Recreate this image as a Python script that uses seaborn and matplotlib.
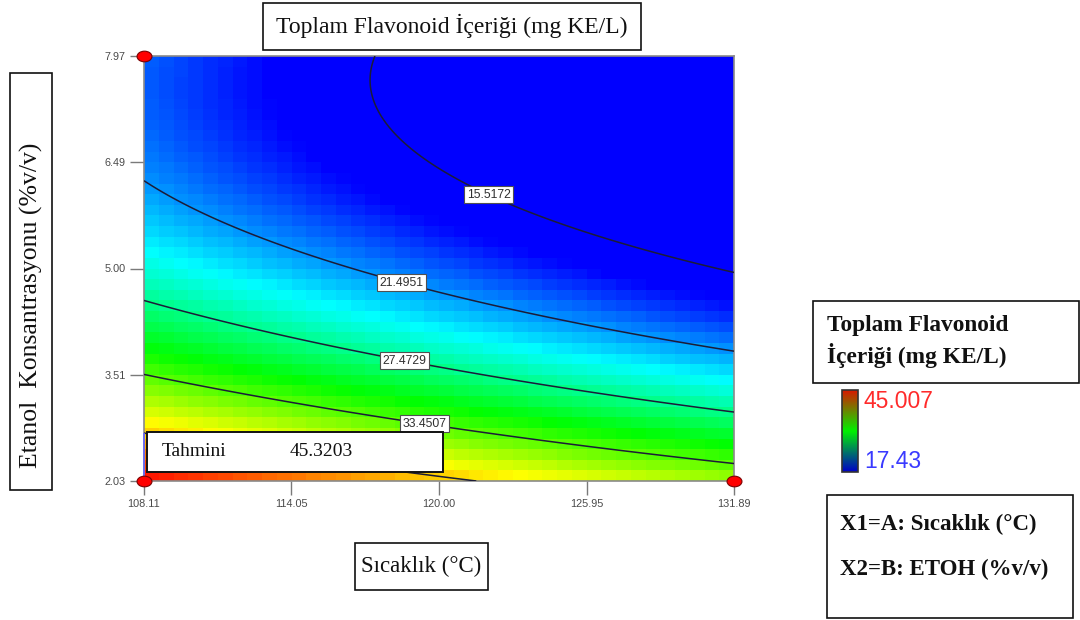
import numpy as np
import pandas as pd
import seaborn as sns
import matplotlib
matplotlib.use("Agg")
import matplotlib.pyplot as plt
from matplotlib.colors import LinearSegmentedColormap, Normalize
from matplotlib.patches import Rectangle
from matplotlib.path import Path
import matplotlib.cm as cm

# ---------------- data ----------------
temp_range = [108.11, 131.89]          # Sıcaklık (°C)
etoh_range = [2.03, 7.97]              # Etanol (%v/v)
x_ticks = [108.11, 114.05, 120.00, 125.95, 131.89]
y_ticks = [7.97, 6.49, 5.00, 3.51, 2.03]
# coded quadratic response-surface model: b0, A, B, AB, A^2, B^2
model_coef = [19.97, -5.08, -12.85, -0.35, 0.38, 7.20]
contour_levels = [15.5172, 21.4951, 27.4729, 33.4507, 39.4285]
label_temps = [122.0, 118.5, 118.6, 119.4]     # labelled contours (last one hidden)
color_limits = [17.43, 45.007]
design_T = [108.11, 108.11, 131.89]
design_E = [7.97, 2.03, 2.03]
pred_T, pred_E = 108.11, 2.03
prediction_label = "Tahmini"
prediction_value = "45.3203"
n_cells = 40

title = "Toplam Flavonoid İçeriği (mg KE/L)"
xlabel = "Sıcaklık (°C)"
ylabel = "Etanol  Konsantrasyonu (%v/v)"
legend_lines = ["Toplam Flavonoid", "İçeriği (mg KE/L)"]
factor_lines = ["X1=A: Sıcaklık (°C)", "X2=B: ETOH (%v/v)"]

# ---------------- model ----------------
T0, T1 = temp_range
E0, E1 = etoh_range
midT, halfT = (T0 + T1) / 2, (T1 - T0) / 2
midE, halfE = (E0 + E1) / 2, (E1 - E0) / 2


def response(T, E):
    A = (np.asarray(T) - midT) / halfT
    B = (np.asarray(E) - midE) / halfE
    b = model_coef
    return b[0] + b[1] * A + b[2] * B + b[3] * A * B + b[4] * A ** 2 + b[5] * B ** 2


def tx(T):
    return (np.asarray(T) - T0) / (T1 - T0) * n_cells


def ey(E):
    return (E1 - np.asarray(E)) / (E1 - E0) * n_cells


# ---------------- figure ----------------
sns.set_theme(style="white")
plt.rcParams["font.family"] = ["Liberation Sans", "DejaVu Sans"]

W, H = 1080, 620
fig = plt.figure(figsize=(W / 100, H / 100), dpi=100)
fig.patch.set_facecolor("white")


def fx(px):
    return px / W


def fy(py):
    return 1 - py / H


ax = fig.add_axes([fx(144), fy(481), fx(734) - fx(144), fy(56) - fy(481)])

cell_T = T0 + (np.arange(n_cells) + 0.5) * (T1 - T0) / n_cells
cell_E = E1 - (np.arange(n_cells) + 0.5) * (E1 - E0) / n_cells
grid = pd.DataFrame(response(cell_T[None, :], cell_E[:, None]),
                    index=np.round(cell_E, 3), columns=np.round(cell_T, 3))

de_cmap = LinearSegmentedColormap.from_list(
    "de", ["#0000ff", "#00ffff", "#00ff00", "#ffff00", "#ff0000"])

sns.heatmap(grid, ax=ax, cmap=de_cmap, vmin=color_limits[0], vmax=color_limits[1],
            cbar=False, xticklabels=False, yticklabels=False)

# contours on a fine grid in heatmap index space
xs = np.linspace(0, n_cells, 301)
ys = np.linspace(0, n_cells, 301)
fT = T0 + xs / n_cells * (T1 - T0)
fE = E1 - ys / n_cells * (E1 - E0)
Zf = response(fT[None, :], fE[:, None])
ax.contour(xs, ys, Zf, levels=contour_levels, colors="#1c1c38",
           linewidths=1.1, zorder=3)

Es = np.linspace(E0, E1, 4000)
for lvl, lt in zip(contour_levels, label_temps):
    r = response(lt, Es) - lvl
    idx = np.where(np.sign(r[:-1]) != np.sign(r[1:]))[0]
    if len(idx) == 0:
        continue
    Ec = Es[idx[0]]
    ax.text(tx(lt), ey(Ec), f"{lvl:.4f}", ha="center", va="center",
            fontsize=8.8, color="#303030", zorder=4,
            bbox=dict(boxstyle="square,pad=0.2", fc="white", ec="#505050", lw=0.8))

# prediction flag pole
ax.vlines(tx(pred_T), ey(pred_E), ey(pred_E) - 4.5, colors="#6464ff",
          linewidth=1.2, zorder=5, clip_on=False)

# design points (red ellipses)
circ = Path.unit_circle()
ell = Path(circ.vertices * np.array([1.4, 1.0]), circ.codes)
ax.scatter(tx(design_T), ey(design_E), marker=ell, s=115, c="#ff0000",
           edgecolors="#7a0000", linewidths=0.8, zorder=10, clip_on=False)

ax.set_xticks(tx(x_ticks))
ax.set_xticklabels([f"{t:.2f}" for t in x_ticks], rotation=0)
ax.set_yticks(ey(y_ticks))
ax.set_yticklabels([f"{e:.2f}" for e in y_ticks], rotation=0)
ax.tick_params(axis="both", direction="out", length=10, width=1.0, color="#7a7a7a",
               labelsize=7.8, labelcolor="#4a4a4a", pad=3,
               bottom=True, left=True)
ax.set_xlabel("")
ax.set_ylabel("")
for sp in ax.spines.values():
    sp.set_visible(True)
    sp.set_color("#8a8a8a")
    sp.set_linewidth(1.2)


# ---------------- boxes & text ----------------
def box(x0, y0, x1, y1, lw=1.2, z=5):
    fig.add_artist(Rectangle((fx(x0), fy(y1)), fx(x1) - fx(x0), fy(y0) - fy(y1),
                             transform=fig.transFigure, fc="white", ec="#111111",
                             lw=lw, zorder=z))


serif = ["Liberation Serif", "DejaVu Serif"]

box(263, 3, 641, 50)
fig.text(fx(452), fy(26), title, ha="center", va="center", fontsize=17,
         family=serif, color="#111111", zorder=6)

box(10, 73, 52, 490)
fig.text(fx(31), fy(305), ylabel, ha="center", va="center", rotation=90,
         fontsize=18.5, family=serif, color="#111111", zorder=6)

box(355, 543, 488, 590)
fig.text(fx(421.5), fy(566), xlabel, ha="center", va="center", fontsize=16.5,
         family=serif, color="#111111", zorder=6)

box(147, 432, 443, 472, lw=1.4)
fig.text(fx(162), fy(451), prediction_label, ha="left", va="center", fontsize=14,
         family=serif, color="#111111", zorder=6)
fig.text(fx(290), fy(451), prediction_value, ha="left", va="center", fontsize=14,
         family=serif, color="#111111", zorder=6)

box(813, 301, 1079, 383)
fig.text(fx(827), fy(326), legend_lines[0], ha="left", va="center", fontsize=16.8,
         family=serif, weight="bold", color="#111111", zorder=6)
fig.text(fx(827), fy(356), legend_lines[1], ha="left", va="center", fontsize=16.8,
         family=serif, weight="bold", color="#111111", zorder=6)

box(827, 495, 1073, 618)
fig.text(fx(840), fy(524), factor_lines[0], ha="left", va="center", fontsize=16.5,
         family=serif, weight="bold", color="#111111", zorder=6)
fig.text(fx(840), fy(569), factor_lines[1], ha="left", va="center", fontsize=16.5,
         family=serif, weight="bold", color="#111111", zorder=6)

# small colour bar
cax = fig.add_axes([fx(842), fy(472), fx(858) - fx(842), fy(390) - fy(472)])
bar_cmap = LinearSegmentedColormap.from_list("bar", ["#0000c8", "#00f000", "#d81800"])
cb = fig.colorbar(cm.ScalarMappable(norm=Normalize(*color_limits), cmap=bar_cmap),
                  cax=cax, ticks=[])
cb.outline.set_edgecolor("#333333")
cb.outline.set_linewidth(1.2)
fig.text(fx(864), fy(402), f"{color_limits[1]:.3f}", ha="left", va="center",
         fontsize=16.5, color="#ff2a2a")
fig.text(fx(864), fy(462), f"{color_limits[0]:.2f}", ha="left", va="center",
         fontsize=16.5, color="#3a3aff")

fig.savefig("out.png", dpi=100, facecolor="white")
